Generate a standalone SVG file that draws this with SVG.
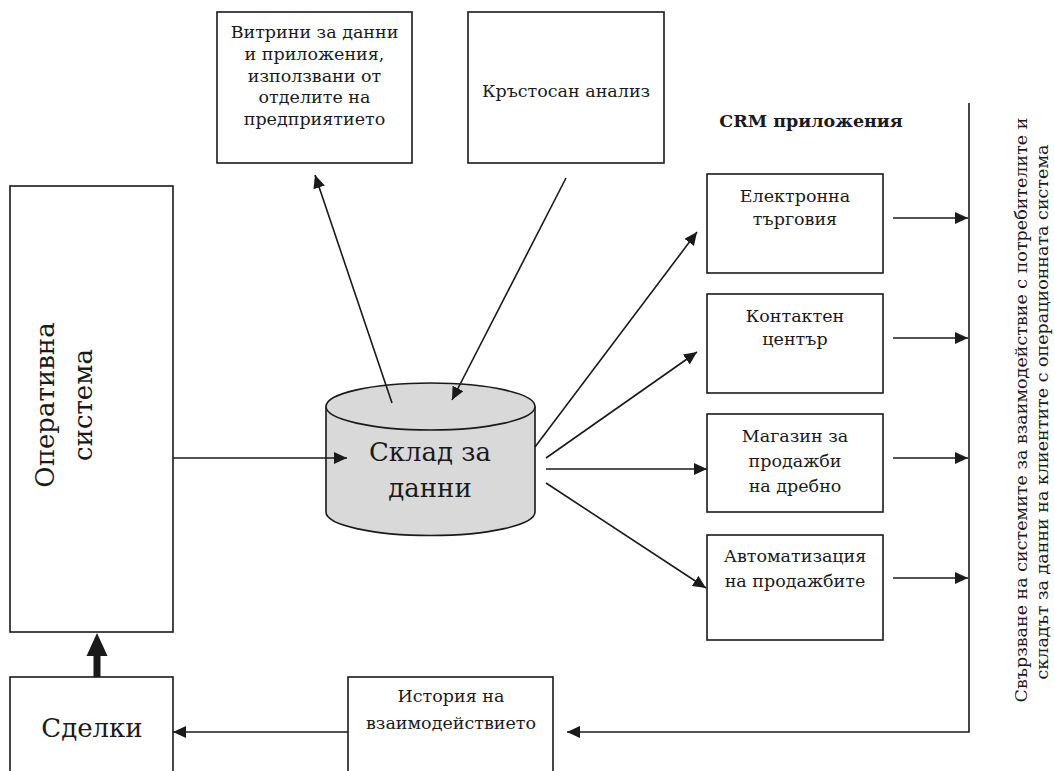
<svg xmlns="http://www.w3.org/2000/svg" width="1054" height="771" viewBox="0 0 1054 771">
  <style>
    .box { fill: #ffffff; stroke: #1a1a1a; stroke-width: 1.6; }
    .ln { fill: none; stroke: #1a1a1a; stroke-width: 1.6; }
    .t { font-family: "DejaVu Serif", "Liberation Serif", serif; font-size: 17.5px; fill: #1a1a1a; text-anchor: middle; }
    .big { font-size: 26px; }
    .bold { font-weight: bold; }
  </style>
  <defs>
    <marker id="arr" markerUnits="userSpaceOnUse" markerWidth="14" markerHeight="12" refX="13" refY="6" orient="auto">
      <path d="M0,0 L13,6 L0,12 Z" fill="#1a1a1a"/>
    </marker>
  </defs>

  <rect width="1054" height="771" fill="#ffffff"/>

  <!-- top: data marts and cross analysis -->
  <g id="data-marts">
    <rect class="box" x="217" y="12" width="195" height="151"/>
    <text class="t" x="314.5" y="38">Витрини за данни</text>
    <text class="t" x="314.5" y="60">и приложения,</text>
    <text class="t" x="314.5" y="82">използвани от</text>
    <text class="t" x="314.5" y="103">отделите на</text>
    <text class="t" x="314.5" y="125">предприятието</text>
  </g>
  <g id="cross-analysis">
    <rect class="box" x="468" y="12" width="196" height="151"/>
    <text class="t" x="566" y="97">Кръстосан анализ</text>
  </g>

  <!-- left: operational system and deals -->
  <g id="operational-system">
    <rect class="box" x="10" y="186" width="163" height="446"/>
    <text class="t big" transform="translate(54,405) rotate(-90)">Оперативна</text>
    <text class="t big" transform="translate(92,405) rotate(-90)">система</text>
  </g>
  <g id="deals">
    <rect class="box" x="10" y="677" width="163" height="110"/>
    <text class="t big" x="92" y="737">Сделки</text>
  </g>

  <!-- data warehouse cylinder -->
  <g id="data-warehouse">
    <path d="M326,406.5 L326,512 A104.5,23.5 0 0 0 535,512 L535,406.5" fill="#d9d9d9" stroke="#1a1a1a" stroke-width="1.6"/>
    <ellipse cx="430.5" cy="406.5" rx="104.5" ry="23.5" fill="#d9d9d9" stroke="#1a1a1a" stroke-width="1.6"/>
    <text class="t big" x="430" y="461">Склад за</text>
    <text class="t big" x="430" y="497">данни</text>
  </g>

  <!-- CRM applications -->
  <text class="t bold" x="811" y="127">CRM приложения</text>
  <g id="e-commerce">
    <rect class="box" x="707" y="174" width="176" height="99"/>
    <text class="t" x="795" y="202">Електронна</text>
    <text class="t" x="795" y="225">търговия</text>
  </g>
  <g id="contact-center">
    <rect class="box" x="707" y="294" width="176" height="99"/>
    <text class="t" x="795" y="322">Контактен</text>
    <text class="t" x="795" y="345">център</text>
  </g>
  <g id="retail-store">
    <rect class="box" x="707" y="414" width="176" height="98"/>
    <text class="t" x="795" y="442">Магазин за</text>
    <text class="t" x="795" y="467">продажби</text>
    <text class="t" x="795" y="492">на дребно</text>
  </g>
  <g id="sales-automation">
    <rect class="box" x="707" y="535" width="176" height="105"/>
    <text class="t" x="795" y="562">Автоматизация</text>
    <text class="t" x="795" y="587">на продажбите</text>
  </g>

  <!-- interaction history -->
  <g id="interaction-history">
    <rect class="box" x="348" y="677" width="205" height="110"/>
    <text class="t" x="451" y="702">История на</text>
    <text class="t" x="451" y="729">взаимодействието</text>
  </g>

  <!-- side caption -->
  <g id="integration-caption">
    <text class="t" transform="translate(1027,410) rotate(-90)">Свързване на системите за взаимодействие с потребителите и</text>
    <text class="t" transform="translate(1048,412) rotate(-90)">складът за данни на клиентите с операционната система</text>
  </g>

  <!-- connectors -->
  <g id="connectors">
    <line class="ln" x1="173" y1="458" x2="347" y2="458" marker-end="url(#arr)"/>
    <line class="ln" x1="392" y1="403" x2="315" y2="175" marker-end="url(#arr)"/>
    <line class="ln" x1="566" y1="178" x2="452" y2="400" marker-end="url(#arr)"/>

    <line class="ln" x1="535" y1="447" x2="697" y2="232" marker-end="url(#arr)"/>
    <line class="ln" x1="546" y1="458" x2="697" y2="352" marker-end="url(#arr)"/>
    <line class="ln" x1="546" y1="469" x2="707" y2="469" marker-end="url(#arr)"/>
    <line class="ln" x1="546" y1="483" x2="706" y2="588" marker-end="url(#arr)"/>

    <line class="ln" x1="893" y1="218" x2="968" y2="218" marker-end="url(#arr)"/>
    <line class="ln" x1="893" y1="338" x2="968" y2="338" marker-end="url(#arr)"/>
    <line class="ln" x1="893" y1="458" x2="968" y2="458" marker-end="url(#arr)"/>
    <line class="ln" x1="893" y1="578" x2="968" y2="578" marker-end="url(#arr)"/>

    <polyline class="ln" points="969,103 969,732 567,732" marker-end="url(#arr)"/>
    <line class="ln" x1="348" y1="732" x2="173" y2="732" marker-end="url(#arr)"/>

    <!-- heavy arrow from deals up to the operational system -->
    <rect x="93.5" y="655" width="7" height="22" fill="#1a1a1a"/>
    <polygon points="97,633 107.5,656 86.5,656" fill="#1a1a1a"/>
  </g>
</svg>
